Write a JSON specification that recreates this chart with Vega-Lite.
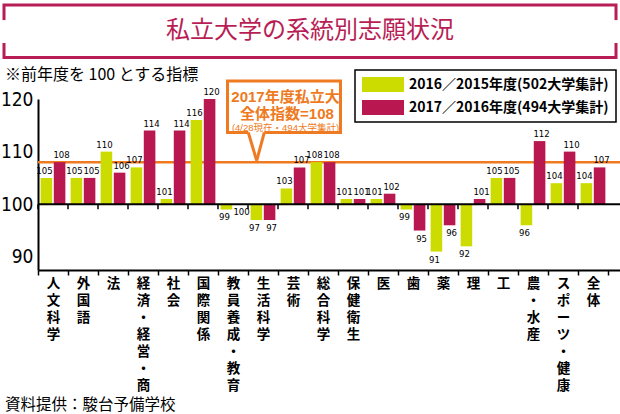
{
  "$schema": "https://vega.github.io/schema/vega-lite/v6.json",
  "width": 582,
  "height": 171,
  "autosize": {"type": "none"},
  "padding": {"left": 38, "top": 99, "right": 0, "bottom": 144},
  "background": "white",
  "config": {"view": {"stroke": null}, "font": "Noto Sans CJK JP"},
  "datasets": {
    "rows": [
      {"cat": "人文科学", "series": "2016／2015年度(502大学集計)", "value": 105},
      {"cat": "人文科学", "series": "2017／2016年度(494大学集計)", "value": 108},
      {"cat": "外国語", "series": "2016／2015年度(502大学集計)", "value": 105},
      {"cat": "外国語", "series": "2017／2016年度(494大学集計)", "value": 105},
      {"cat": "法", "series": "2016／2015年度(502大学集計)", "value": 110},
      {"cat": "法", "series": "2017／2016年度(494大学集計)", "value": 106},
      {"cat": "経済・経営・商", "series": "2016／2015年度(502大学集計)", "value": 107},
      {"cat": "経済・経営・商", "series": "2017／2016年度(494大学集計)", "value": 114},
      {"cat": "社会", "series": "2016／2015年度(502大学集計)", "value": 101},
      {"cat": "社会", "series": "2017／2016年度(494大学集計)", "value": 114},
      {"cat": "国際関係", "series": "2016／2015年度(502大学集計)", "value": 116},
      {"cat": "国際関係", "series": "2017／2016年度(494大学集計)", "value": 120},
      {"cat": "教員養成・教育", "series": "2016／2015年度(502大学集計)", "value": 99},
      {"cat": "教員養成・教育", "series": "2017／2016年度(494大学集計)", "value": 100},
      {"cat": "生活科学", "series": "2016／2015年度(502大学集計)", "value": 97},
      {"cat": "生活科学", "series": "2017／2016年度(494大学集計)", "value": 97},
      {"cat": "芸術", "series": "2016／2015年度(502大学集計)", "value": 103},
      {"cat": "芸術", "series": "2017／2016年度(494大学集計)", "value": 107},
      {"cat": "総合科学", "series": "2016／2015年度(502大学集計)", "value": 108},
      {"cat": "総合科学", "series": "2017／2016年度(494大学集計)", "value": 108},
      {"cat": "保健衛生", "series": "2016／2015年度(502大学集計)", "value": 101},
      {"cat": "保健衛生", "series": "2017／2016年度(494大学集計)", "value": 101},
      {"cat": "医", "series": "2016／2015年度(502大学集計)", "value": 101},
      {"cat": "医", "series": "2017／2016年度(494大学集計)", "value": 102},
      {"cat": "歯", "series": "2016／2015年度(502大学集計)", "value": 99},
      {"cat": "歯", "series": "2017／2016年度(494大学集計)", "value": 95},
      {"cat": "薬", "series": "2016／2015年度(502大学集計)", "value": 91},
      {"cat": "薬", "series": "2017／2016年度(494大学集計)", "value": 96},
      {"cat": "理", "series": "2016／2015年度(502大学集計)", "value": 92},
      {"cat": "理", "series": "2017／2016年度(494大学集計)", "value": 101},
      {"cat": "工", "series": "2016／2015年度(502大学集計)", "value": 105},
      {"cat": "工", "series": "2017／2016年度(494大学集計)", "value": 105},
      {"cat": "農・水産", "series": "2016／2015年度(502大学集計)", "value": 96},
      {"cat": "農・水産", "series": "2017／2016年度(494大学集計)", "value": 112},
      {"cat": "スポーツ・健康", "series": "2016／2015年度(502大学集計)", "value": 104},
      {"cat": "スポーツ・健康", "series": "2017／2016年度(494大学集計)", "value": 110},
      {"cat": "全体", "series": "2016／2015年度(502大学集計)", "value": 104},
      {"cat": "全体", "series": "2017／2016年度(494大学集計)", "value": 107}
    ]
  },
  "layer": [
    {
      "data": {"name": "rows"},
      "layer": [
        {
          "data": {"values": [{"line": "全体指数"}]},
          "mark": {"type": "rule", "color": "#EE7A21", "strokeWidth": 2.5},
          "encoding": {"y": {"datum": 108, "type": "quantitative"}}
        },
        {
          "mark": {"type": "bar"},
          "encoding": {
            "x": {
              "field": "cat", "type": "nominal", "sort": null,
              "scale": {"paddingInner": 0, "paddingOuter": 0.2, "align": 0},
              "axis": {
                "title": null, "domainColor": "#000", "domainWidth": 2,
                "ticks": true, "tickColor": "#000", "tickWidth": 1.5, "tickSize": 5, "tickBand": "extent",
                "labelAngle": 0, "labelAlign": "center", "labelBaseline": "top",
                "labelExpr": "split(datum.label, '')", "labelLineHeight": 17,
                "labelFont": "Liberation Sans, Noto Sans CJK JP", "labelFontSize": 13.5, "labelFontWeight": "bold",
                "labelColor": "#000", "labelPadding": 1, "labelOverlap": false, "labelBound": false
              }
            },
            "xOffset": {
              "field": "series", "type": "nominal", "sort": null,
              "scale": {"paddingInner": 0.12, "paddingOuter": 0.2}
            },
            "y": {
              "field": "value", "type": "quantitative",
              "scale": {"domain": [87.5, 120], "nice": false, "zero": false},
              "axis": {
                "values": [90, 100, 110, 120], "title": null, "ticks": false, "grid": false,
                "domainColor": "#000", "domainWidth": 2,
                "labelFont": "DejaVu Sans Condensed", "labelFontSize": 19, "labelColor": "#000", "labelPadding": 5
              }
            },
            "y2": {"datum": 100},
            "color": {
              "field": "series", "type": "nominal",
              "scale": {"domain": ["2016／2015年度(502大学集計)", "2017／2016年度(494大学集計)"], "range": ["#CDDC00", "#B8174F"]},
              "legend": {
                "title": null, "orient": "none", "legendX": 317, "legendY": -29,
                "symbolType": "M-1,-0.357H1V0.357H-1Z", "symbolSize": 1764, "clipHeight": 15,
                "symbolStrokeWidth": 0, "labelFont": "Noto Sans CJK JP", "labelFontSize": 14, "labelFontWeight": "bold",
                "labelColor": "#000", "labelOffset": 5, "labelLimit": 400, "rowPadding": 8, "padding": 7,
                "strokeColor": "#000", "fillColor": "white",
                "encode": {"legend": {"update": {"strokeWidth": {"value": 1.5}}}}
              }
            }
          }
        },
        {
          "data": {"values": [{"line": "基準"}]},
          "mark": {"type": "rule", "color": "#000", "strokeWidth": 2},
          "encoding": {"y": {"datum": 100, "type": "quantitative"}}
        },
        {
          "transform": [{"filter": "datum.series == '2016／2015年度(502大学集計)'"}],
          "mark": {"type": "rule", "color": "#000", "strokeWidth": 1.5},
          "encoding": {
            "x": {"field": "cat", "type": "nominal", "sort": null, "bandPosition": 0},
            "y": {"datum": 100, "type": "quantitative"},
            "y2": {"datum": 99.05}
          }
        },
        {
          "transform": [{"filter": "datum.value > 100 && datum.series == '2016／2015年度(502大学集計)'"}],
          "mark": {"type": "text", "baseline": "bottom", "dy": -2, "dx": -2, "font": "DejaVu Sans Condensed", "fontSize": 9.5, "color": "#000"},
          "encoding": {
            "x": {"field": "cat", "type": "nominal", "sort": null},
            "xOffset": {"field": "series", "type": "nominal", "sort": null},
            "y": {"field": "value", "type": "quantitative"},
            "text": {"field": "value", "type": "quantitative"}
          }
        },
        {
          "transform": [{"filter": "datum.value > 100 && datum.series == '2017／2016年度(494大学集計)'"}],
          "mark": {"type": "text", "baseline": "bottom", "dy": -2, "dx": 2, "font": "DejaVu Sans Condensed", "fontSize": 9.5, "color": "#000"},
          "encoding": {
            "x": {"field": "cat", "type": "nominal", "sort": null},
            "xOffset": {"field": "series", "type": "nominal", "sort": null},
            "y": {"field": "value", "type": "quantitative"},
            "text": {"field": "value", "type": "quantitative"}
          }
        },
        {
          "transform": [{"filter": "datum.value <= 100 && datum.series == '2016／2015年度(502大学集計)'"}],
          "mark": {"type": "text", "baseline": "top", "dy": 3, "dx": -2, "font": "DejaVu Sans Condensed", "fontSize": 9.5, "color": "#000"},
          "encoding": {
            "x": {"field": "cat", "type": "nominal", "sort": null},
            "xOffset": {"field": "series", "type": "nominal", "sort": null},
            "y": {"field": "value", "type": "quantitative"},
            "text": {"field": "value", "type": "quantitative"}
          }
        },
        {
          "transform": [{"filter": "datum.value <= 100 && datum.series == '2017／2016年度(494大学集計)'"}],
          "mark": {"type": "text", "baseline": "top", "dy": 3, "dx": 2, "font": "DejaVu Sans Condensed", "fontSize": 9.5, "color": "#000"},
          "encoding": {
            "x": {"field": "cat", "type": "nominal", "sort": null},
            "xOffset": {"field": "series", "type": "nominal", "sort": null},
            "y": {"field": "value", "type": "quantitative"},
            "text": {"field": "value", "type": "quantitative"}
          }
        }
      ]
    },
    {
      "data": {"values": [{"part": "annotation"}]},
      "layer": [
        {
          "mark": {"type": "rect", "fill": "transparent", "stroke": "#B81E55", "strokeWidth": 3},
          "encoding": {
            "x": {"datum": -1.133, "type": "quantitative", "scale": {"domain": [0, 19.4], "nice": false, "zero": false}, "axis": null},
            "x2": {"datum": 19.267},
            "y": {"datum": 137.87, "type": "quantitative"},
            "y2": {"datum": 127.89}
          }
        },
        {
          "mark": {"type": "rule", "color": "white", "strokeWidth": 7},
          "encoding": {
            "x": {"datum": -1.133, "type": "quantitative", "axis": null},
            "y": {"datum": 135.0, "type": "quantitative"},
            "y2": {"datum": 130.64}
          }
        },
        {
          "mark": {"type": "rule", "color": "white", "strokeWidth": 7},
          "encoding": {
            "x": {"datum": 19.267, "type": "quantitative", "axis": null},
            "y": {"datum": 135.0, "type": "quantitative"},
            "y2": {"datum": 130.64}
          }
        },
        {
          "data": {"values": [{"t": "私立大学の系統別志願状況"}]},
          "mark": {"type": "text", "align": "center", "baseline": "middle", "fontSize": 24, "color": "#B81E55", "font": "Noto Sans CJK JP"},
          "encoding": {
            "x": {"datum": 9.067, "type": "quantitative", "axis": null},
            "y": {"datum": 132.92, "type": "quantitative"},
            "text": {"field": "t"}
          }
        },
        {
          "data": {"values": [{"t": "※前年度を 100 とする指標"}]},
          "mark": {"type": "text", "align": "left", "baseline": "middle", "fontSize": 16, "color": "#000", "font": "Noto Sans CJK JP"},
          "encoding": {
            "x": {"datum": -1.1, "type": "quantitative", "axis": null},
            "y": {"datum": 124.56, "type": "quantitative"},
            "text": {"field": "t"}
          }
        },
        {
          "data": {"values": [{"t": "資料提供：駿台予備学校"}]},
          "mark": {"type": "text", "align": "left", "baseline": "middle", "fontSize": 15.5, "color": "#000", "font": "Noto Sans CJK JP"},
          "encoding": {
            "x": {"datum": -1.1, "type": "quantitative", "axis": null},
            "y": {"datum": 61.84, "type": "quantitative"},
            "text": {"field": "t"}
          }
        },
        {
          "mark": {"type": "rect", "fill": "white", "stroke": "#EE7A21", "strokeWidth": 3},
          "encoding": {
            "x": {"datum": 6.317, "type": "quantitative", "axis": null},
            "x2": {"datum": 10.083},
            "y": {"datum": 123.42, "type": "quantitative"},
            "y2": {"datum": 113.63}
          }
        },
        {
          "mark": {"type": "rule", "color": "white", "strokeWidth": 4},
          "encoding": {
            "x": {"datum": 7.01, "type": "quantitative", "axis": null},
            "x2": {"datum": 7.543},
            "y": {"datum": 113.63, "type": "quantitative"}
          }
        },
        {
          "mark": {"type": "rule", "color": "#EE7A21", "strokeWidth": 3},
          "encoding": {
            "x": {"datum": 7.01, "type": "quantitative", "axis": null},
            "x2": {"datum": 7.29},
            "y": {"datum": 113.63, "type": "quantitative"},
            "y2": {"datum": 108.3}
          }
        },
        {
          "mark": {"type": "rule", "color": "#EE7A21", "strokeWidth": 3},
          "encoding": {
            "x": {"datum": 7.543, "type": "quantitative", "axis": null},
            "x2": {"datum": 7.29},
            "y": {"datum": 113.63, "type": "quantitative"},
            "y2": {"datum": 108.3}
          }
        },
        {
          "data": {"values": [{"t": "2017年度私立大"}]},
          "mark": {"type": "text", "align": "center", "baseline": "middle", "fontSize": 15, "fontWeight": "bold", "color": "#EE7A21", "font": "Liberation Sans, Noto Sans CJK JP"},
          "encoding": {
            "x": {"datum": 8.25, "type": "quantitative", "axis": null},
            "y": {"datum": 120.38, "type": "quantitative"},
            "text": {"field": "t"}
          }
        },
        {
          "data": {"values": [{"t": "全体指数=108"}]},
          "mark": {"type": "text", "align": "center", "baseline": "middle", "fontSize": 15, "fontWeight": "bold", "color": "#EE7A21", "font": "Liberation Sans, Noto Sans CJK JP"},
          "encoding": {
            "x": {"datum": 8.3, "type": "quantitative", "axis": null},
            "y": {"datum": 117.15, "type": "quantitative"},
            "text": {"field": "t"}
          }
        },
        {
          "data": {"values": [{"t": "(4/28現在・494大学集計)"}]},
          "mark": {"type": "text", "align": "center", "baseline": "middle", "fontSize": 9.5, "color": "#EE7A21", "font": "Liberation Sans, Noto Sans CJK JP"},
          "encoding": {
            "x": {"datum": 8.25, "type": "quantitative", "axis": null},
            "y": {"datum": 114.49, "type": "quantitative"},
            "text": {"field": "t"}
          }
        }
      ]
    }
  ],
  "resolve": {"scale": {"x": "independent"}}
}
